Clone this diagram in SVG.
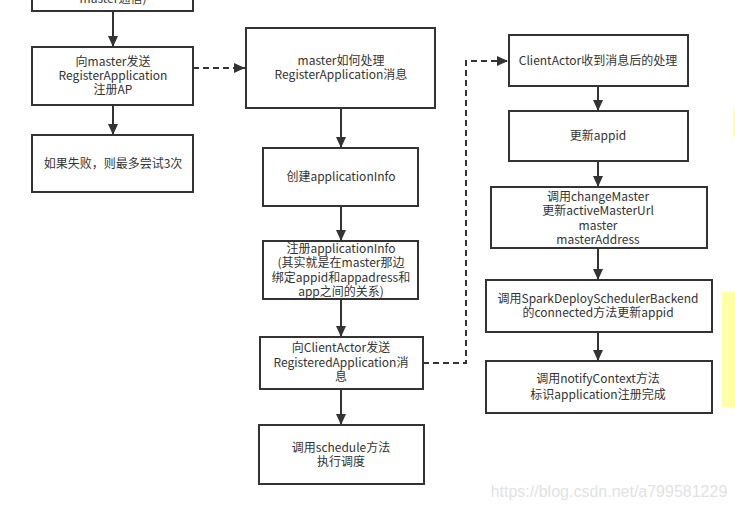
<svg xmlns="http://www.w3.org/2000/svg" width="735" height="509" viewBox="0 0 735 509">
<defs>
<marker id="ah" markerUnits="userSpaceOnUse" markerWidth="12" markerHeight="12" viewBox="0 0 12 12" refX="11" refY="6" orient="auto">
<path d="M0,1 L11,6 L0,11 Z" fill="#333"/>
</marker>
</defs>
<style>
.box{fill:#fff;stroke:#333;stroke-width:2}
.t{font-family:"Microsoft YaHei","Noto Sans CJK SC",sans-serif;font-size:12px;fill:#333;text-anchor:middle}
.c{fill:none;stroke:#333;stroke-width:2;marker-end:url(#ah)}
.d{stroke-dasharray:6 4}
</style>
<rect width="735" height="509" fill="#fff"/>
<rect x="733" y="109" width="2" height="28" fill="#ffffa8"/>
<rect x="722" y="292" width="13" height="115" fill="#ffffa8"/>

<g id="n0"><rect class="box" x="32" y="-10" width="161" height="21"/><text class="t" x="113" y="3">master通信)</text></g>
<g id="n1"><rect class="box" x="32" y="47" width="161" height="58"/>
<text class="t" x="113" y="66">向master发送</text><text class="t" x="113" y="80">RegisterApplication</text><text class="t" x="113" y="94">注册AP</text></g>
<g id="n2"><rect class="box" x="32" y="135" width="161" height="57"/><text class="t" x="113" y="168">如果失败，则最多尝试3次</text></g>
<g id="n3"><rect class="box" x="246" y="28" width="189" height="80"/>
<text class="t" x="341" y="65">master如何处理</text><text class="t" x="341" y="79">RegisterApplication消息</text></g>
<g id="n4"><rect class="box" x="263" y="148" width="155" height="58"/><text class="t" x="341" y="181">创建applicationInfo</text></g>
<g id="n5"><rect class="box" x="263" y="241" width="155" height="58"/>
<text class="t" x="341" y="253">注册applicationInfo</text><text class="t" x="341" y="267">(其实就是在master那边</text><text class="t" x="341" y="282">绑定appid和appadress和</text><text class="t" x="341" y="296">app之间的关系)</text></g>
<g id="n6"><rect class="box" x="260" y="337" width="163" height="52"/>
<text class="t" x="341" y="352">向ClientActor发送</text><text class="t" x="341" y="367">RegisteredApplication消</text><text class="t" x="341" y="381">息</text></g>
<g id="n7"><rect class="box" x="259" y="425" width="165" height="59"/>
<text class="t" x="341" y="452">调用schedule方法</text><text class="t" x="341" y="466">执行调度</text></g>
<g id="n8"><rect class="box" x="509" y="35" width="179" height="51"/><text class="t" x="598" y="65">ClientActor收到消息后的处理</text></g>
<g id="n9"><rect class="box" x="509" y="111" width="179" height="50"/><text class="t" x="598" y="140">更新appid</text></g>
<g id="n10"><rect class="box" x="491" y="187" width="216" height="61"/>
<text class="t" x="598" y="201">调用changeMaster</text><text class="t" x="598" y="215">更新activeMasterUrl</text><text class="t" x="598" y="230">master</text><text class="t" x="598" y="244">masterAddress</text></g>
<g id="n11"><rect class="box" x="486" y="280" width="226" height="52"/>
<text class="t" x="598" y="303">调用SparkDeploySchedulerBackend</text><text class="t" x="598" y="317">的connected方法更新appid</text></g>
<g id="n12"><rect class="box" x="486" y="361" width="226" height="52"/>
<text class="t" x="598" y="383">调用notifyContext方法</text><text class="t" x="598" y="399">标识application注册完成</text></g>

<g id="connectors">
<path class="c" d="M113,11 V47"/>
<path class="c" d="M113,105 V135"/>
<path class="c d" d="M193,68 H245"/>
<path class="c" d="M341,108 V148"/>
<path class="c" d="M341,206 V241"/>
<path class="c" d="M341,299 V337"/>
<path class="c" d="M341,389 V425"/>
<path class="c d" d="M423,363 H466 V61 H508"/>
<path class="c" d="M598,86 V111"/>
<path class="c" d="M598,161 V187"/>
<path class="c" d="M598,248 V280"/>
<path class="c" d="M598,332 V361"/>
</g>
<text x="609" y="497" style="font-family:'Liberation Sans',Arial,sans-serif;font-size:16px;fill:#e2e2e2;text-anchor:middle">https://blog.csdn.net/a799581229</text>
</svg>
